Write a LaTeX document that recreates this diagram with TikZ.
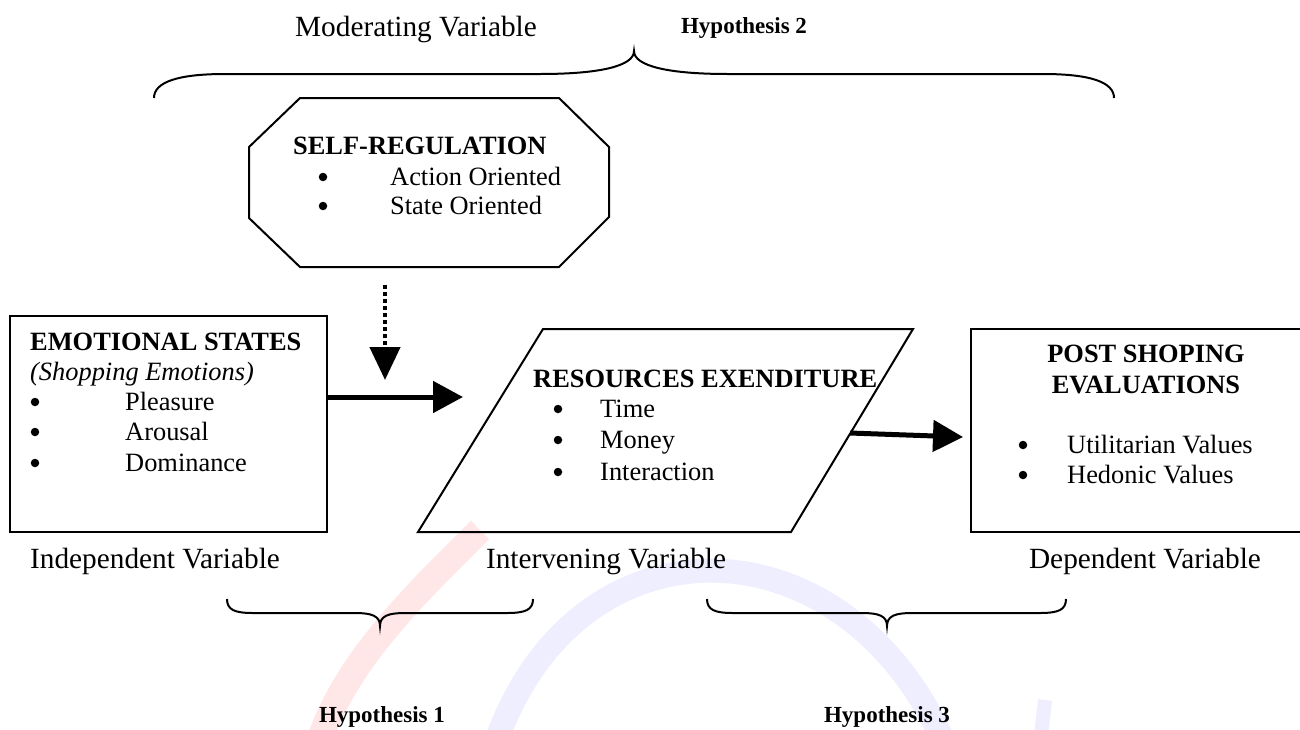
\documentclass[tikz,border=0pt]{standalone}
\usepackage{fontspec}
\setmainfont{Liberation Serif}
\usetikzlibrary{arrows.meta}
\begin{document}
\begin{tikzpicture}[x=1pt,y=-1pt,
  box/.style={draw, line width=2pt, line join=miter},
  txt/.style={inner sep=0pt, anchor=base west, font=\fontsize{26.4}{30}\selectfont},
  hd/.style={inner sep=0pt, anchor=base west, font=\fontsize{26.4}{30}\selectfont\bfseries},
  hdc/.style={inner sep=0pt, anchor=base, font=\fontsize{26.4}{30}\selectfont\bfseries},
  bul/.style={circle, fill=black, inner sep=0pt, minimum size=8.5pt},
  lab/.style={inner sep=0pt, anchor=base, font=\fontsize{29.3}{32}\selectfont},
  hyp/.style={inner sep=0pt, anchor=base, font=\fontsize{23}{26}\selectfont\bfseries},
  brace/.style={line width=2pt},
  thickarrow/.style={line width=5pt, -{Triangle[length=30pt,width=31pt]}},
  dotarrow/.style={line width=4.5pt, dash pattern=on 4pt off 3pt, -{Triangle[length=33pt,width=30pt]}},
  wmred/.style={line width=26pt, red!30, opacity=0.3},
  wmblue/.style={line width=24pt, blue!30, opacity=0.22}
]
\useasboundingbox (0,0) rectangle (1300,729);
\clip (0,0) rectangle (1300,729);
\fill[white] (0,0) rectangle (1300,729);

% faint watermark
\draw[wmred] (480,530) .. controls (420,590) and (345,660) .. (318,745);
\draw[wmblue] (495,745) .. controls (575,510) and (845,515) .. (945,745);
\draw[wmblue, line width=14pt] (1045,700) -- (1040,745);

% top brace (Hypothesis 2)
\draw[brace] (154,98) .. controls (154,82) and (178,74) .. (225,74) -- (540,74)
  .. controls (600,74) and (634,66) .. (634,51)
  .. controls (634,66) and (668,74) .. (728,74) -- (1043,74)
  .. controls (1090,74) and (1114,82) .. (1114,98);
\node[lab] (modlab) at (416,36) {Moderating Variable};
\node[hyp] (hyp2) at (744,33) {Hypothesis 2};

% octagon: self-regulation
\coordinate (o1) at (300,98);  \coordinate (o2) at (559,98);
\coordinate (o3) at (609,147); \coordinate (o4) at (609,217);
\coordinate (o5) at (559,267); \coordinate (o6) at (300,267);
\coordinate (o7) at (249,218); \coordinate (o8) at (249,147);
\draw[box] (o1) -- (o2) -- (o3) -- (o4) -- (o5) -- (o6) -- (o7) -- (o8) -- cycle;
\node[hd] (srt) at (293,154) {SELF-REGULATION};
\node[bul] (sb1) at (323,177) {};
\node[txt] (si1) at (390,185) {Action Oriented};
\node[bul] (sb2) at (323,206) {};
\node[txt] (si2) at (390,214) {State Oriented};

% emotional states box
\coordinate (e1) at (10,316); \coordinate (e2) at (327,532);
\draw[box] (e1) rectangle (e2);
\node[hd] (est) at (30,350) {EMOTIONAL STATES};
\node[txt] (ese) at (30,380) {\itshape (Shopping Emotions)};
\node[bul] (eb1) at (35,402) {};
\node[txt] (ei1) at (125,410) {Pleasure};
\node[bul] (eb2) at (35,432) {};
\node[txt] (ei2) at (125,440) {Arousal};
\node[bul] (eb3) at (35,463) {};
\node[txt] (ei3) at (125,471) {Dominance};

% parallelogram: resources expenditure
\coordinate (p1) at (543,329); \coordinate (p2) at (913,329);
\coordinate (p3) at (791,532); \coordinate (p4) at (418,532);
\draw[box] (p1) -- (p2) -- (p3) -- (p4) -- cycle;
\node[hd] (rt) at (533,387) {RESOURCES EXENDITURE};
\node[bul] (rb1) at (558,409) {};
\node[txt] (ri1) at (600,417) {Time};
\node[bul] (rb2) at (558,440) {};
\node[txt] (ri2) at (600,448) {Money};
\node[bul] (rb3) at (558,472) {};
\node[txt] (ri3) at (600,480) {Interaction};

% post shopping box
\coordinate (q1) at (971,329); \coordinate (q2) at (1321,532);
\draw[box] (q1) rectangle (q2);
\node[hdc] (pt1) at (1146,362) {POST SHOPING};
\node[hdc] (pt2) at (1146,393) {EVALUATIONS};
\node[bul] (qb1) at (1023,445) {};
\node[txt] (qi1) at (1067,453) {Utilitarian Values};
\node[bul] (qb2) at (1023,475) {};
\node[txt] (qi2) at (1067,483) {Hedonic Values};

% arrows
\coordinate (da1) at (385,285); \coordinate (da2) at (385,380);
\draw[dotarrow] (da1) -- (da2);
\coordinate (a1s) at (327,397); \coordinate (a1e) at (463,397);
\draw[thickarrow] (a1s) -- (a1e);
\coordinate (a2s) at (850,433); \coordinate (a2e) at (963,437);
\draw[thickarrow] (a2s) -- (a2e);

% variable labels
\node[lab] (indep) at (155,568) {Independent Variable};
\node[lab] (interv) at (606,568) {Intervening Variable};
\node[lab] (dep) at (1145,568) {Dependent Variable};

% bottom braces
\draw[brace] (227,599) .. controls (227,610) and (235,613) .. (253,613) -- (355,613)
  .. controls (372,613) and (380,616) .. (380,626)
  .. controls (380,616) and (388,613) .. (405,613) -- (507,613)
  .. controls (525,613) and (533,610) .. (533,599);
\draw[brace] (707,599) .. controls (707,610) and (715,613) .. (733,613) -- (862,613)
  .. controls (879,613) and (887,616) .. (887,626)
  .. controls (887,616) and (895,613) .. (912,613) -- (1040,613)
  .. controls (1058,613) and (1066,610) .. (1066,599);
\node[hyp] (hyp1) at (382,722) {Hypothesis 1};
\node[hyp] (hyp3) at (887,722) {Hypothesis 3};
\end{tikzpicture}
\end{document}
